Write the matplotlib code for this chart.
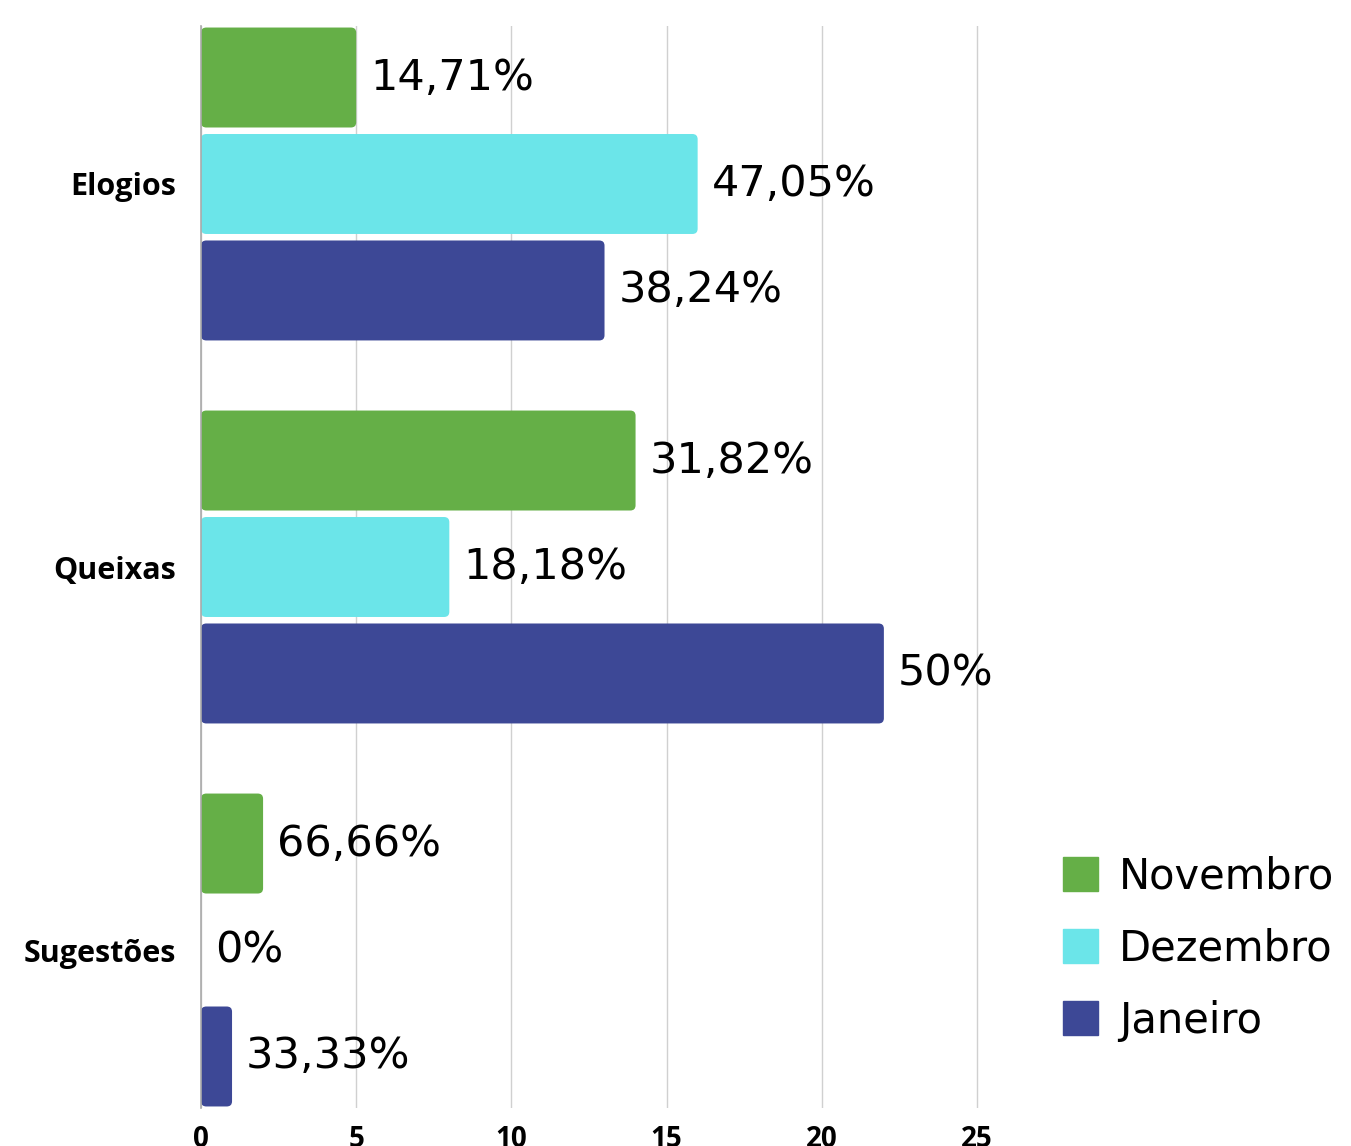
import numpy as np
import matplotlib.pyplot as plt
from matplotlib.patches import FancyBboxPatch, Patch

# Data
categories = ['Elogios', 'Queixas', 'Sugestões']
series = ['Novembro', 'Dezembro', 'Janeiro']
novembro = [5, 14, 2]
dezembro = [16, 8, 0]
janeiro = [13, 22, 1]
lab_nov = ['14,71%', '31,82%', '66,66%']
lab_dez = ['47,05%', '18,18%', '0%']
lab_jan = ['38,24%', '50%', '33,33%']
colors = ['#65AF47', '#6BE5E9', '#3D4896']

values = [novembro, dezembro, janeiro]
labels = [lab_nov, lab_dez, lab_jan]

fig = plt.figure(figsize=(13.51, 11.46), dpi=100)
ax = fig.add_axes([201 / 1351, 1 - 1108 / 1146, 26 * 31.04 / 1351, (1108 - 26) / 1146])

y = np.arange(len(categories))
h = 0.261
offsets = [-0.278, 0, 0.278]

for vals, labs, col, off in zip(values, labels, colors, offsets):
    bars = ax.barh(y + off, vals, height=h, color=col)
    for b, lab in zip(bars, labs):
        bx, by = b.get_x(), b.get_y()
        bw, bh = b.get_width(), b.get_height()
        if bw > 0:
            b.set_visible(False)
            ax.add_patch(FancyBboxPatch((bx, by), bw, bh,
                                        boxstyle='round,pad=0,rounding_size=0.17',
                                        mutation_aspect=0.08, fc=col, ec='none'))
        ax.text(bx + bw + 0.45, by + bh / 2, lab, va='center', ha='left',
                fontsize=31, family='DejaVu Sans', color='black')

ax.set_xlim(0, 26)
ax.set_ylim(2.4125, -0.4125)
ax.set_xticks([0, 5, 10, 15, 20, 25])
ax.set_yticks(y)
ax.set_yticklabels(categories, fontsize=22, fontweight='bold', family='Open Sans')
for t in ax.get_xticklabels():
    t.set_fontsize(20)
    t.set_fontweight('bold')
    t.set_family('Open Sans')
ax.tick_params(axis='both', length=0)
ax.tick_params(axis='y', pad=18)
ax.tick_params(axis='x', pad=12)
ax.grid(axis='x', color='#d0d0d0', linewidth=1)
ax.set_axisbelow(True)
for s in ['top', 'right', 'bottom']:
    ax.spines[s].set_visible(False)
ax.spines['left'].set_color('#aaaaaa')
ax.spines['left'].set_linewidth(1.2)

handles = [Patch(color=c) for c in colors]
fig.legend(handles, series, loc='upper left', bbox_to_anchor=(1025 / 1351, 1 - 818 / 1146),
           frameon=False, prop={'family': 'DejaVu Sans', 'size': 30},
           handlelength=0.85, handleheight=0.85, handletextpad=0.5, labelspacing=0.72)

fig.savefig('out.png', dpi=100)
